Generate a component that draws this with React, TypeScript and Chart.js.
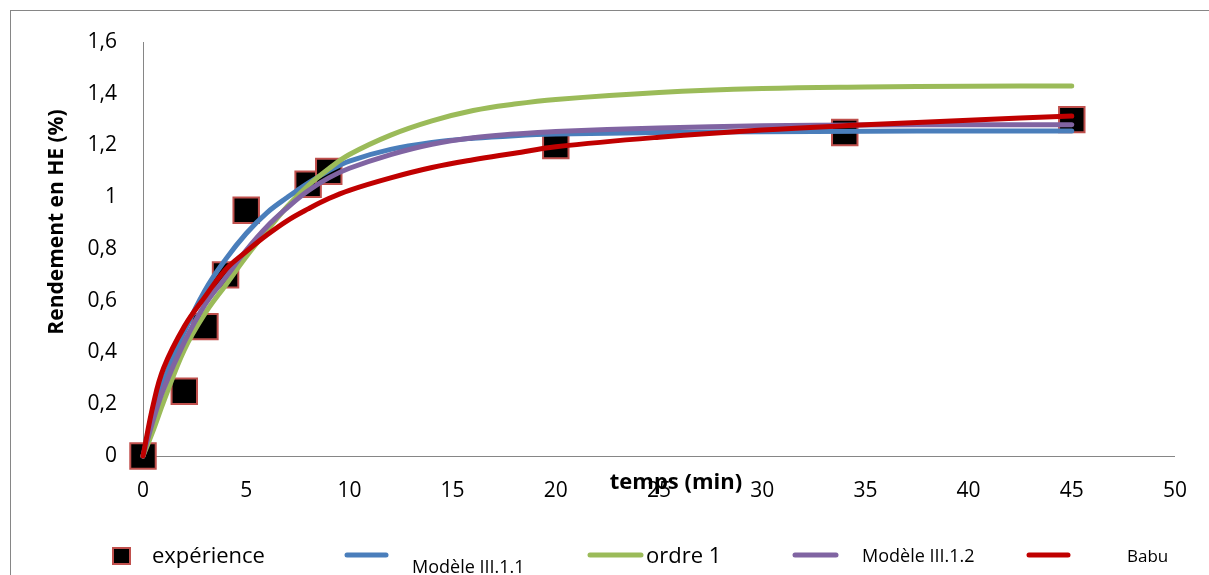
import React, { useEffect, useRef } from "react";
import { Chart, registerables } from "chart.js";

Chart.register(...registerables);

// ---- data ----
const expTimes = [0, 2, 3, 4, 5, 8, 9, 20, 34, 45];
const expValues = [0, 0.25, 0.5, 0.7, 0.95, 1.05, 1.1, 1.2, 1.25, 1.3];

const modelTimes = [0, 0.5, 1, 2, 3, 4, 5, 6, 7, 8, 9, 10, 12, 14, 16, 18, 20, 25, 30, 35, 40, 45];
const modele111 = [0, 0.16, 0.29, 0.48, 0.64, 0.76, 0.86, 0.94, 1.0, 1.055, 1.102, 1.14, 1.185, 1.212, 1.228, 1.238, 1.244, 1.25, 1.253, 1.255, 1.256, 1.256];
const ordre1 = [0, 0.1, 0.21, 0.41, 0.55, 0.66, 0.77, 0.87, 0.965, 1.045, 1.11, 1.165, 1.24, 1.295, 1.335, 1.36, 1.378, 1.405, 1.42, 1.426, 1.429, 1.43];
const modele112 = [0, 0.14, 0.26, 0.44, 0.585, 0.69, 0.795, 0.886, 0.96, 1.025, 1.075, 1.112, 1.165, 1.205, 1.23, 1.244, 1.254, 1.268, 1.276, 1.279, 1.28, 1.28];
const babu = [0, 0.2, 0.34, 0.5, 0.615, 0.72, 0.79, 0.854, 0.91, 0.955, 0.995, 1.027, 1.075, 1.115, 1.145, 1.17, 1.195, 1.232, 1.26, 1.28, 1.298, 1.314];

const xTicks = [0, 5, 10, 15, 20, 25, 30, 35, 40, 45, 50];
const yTicks = [0, 0.2, 0.4, 0.6, 0.8, 1, 1.2, 1.4, 1.6];

const seriesNames = ["expérience", "Modèle III.1.1", "ordre 1", "Modèle III.1.2", "Babu"];
const xTitle = "temps (min)";
const yTitle = "Rendement en HE (%)";

const FONT = "'Open Sans', 'Noto Sans', sans-serif";
const COLORS = {
  blue: "#4a7ebb",
  green: "#9bbb59",
  purple: "#8064a2",
  red: "#c00000",
  marker: "#c0504d",
};

const toPts = (xs: number[], ys: number[]) => xs.map((x, i) => ({ x, y: ys[i] }));
const fmt = (v: number) => String(Number(v.toFixed(1))).replace(".", ",");

const decorPlugin = {
  id: "decor",
  beforeDraw(chart: any) {
    const ctx = chart.ctx;
    ctx.save();
    ctx.strokeStyle = "#868686";
    ctx.lineWidth = 1;
    ctx.strokeRect(10.5, 10.5, 1400, 800);
    ctx.restore();
  },
  afterDraw(chart: any) {
    const ctx = chart.ctx;
    ctx.save();
    ctx.fillStyle = "#000";
    // axis titles
    ctx.font = `bold 22px ${FONT}`;
    ctx.textAlign = "center";
    ctx.textBaseline = "alphabetic";
    ctx.fillText(xTitle, 676, 489);
    ctx.save();
    ctx.translate(57, 222);
    ctx.rotate(-Math.PI / 2);
    ctx.font = `bold 21px ${FONT}`;
    ctx.textAlign = "center";
    ctx.textBaseline = "middle";
    ctx.fillText(yTitle, 0, 0);
    ctx.restore();

    // legend
    ctx.textAlign = "left";
    ctx.textBaseline = "alphabetic";
    ctx.fillStyle = "#000";
    ctx.fillRect(113, 548, 17, 16);
    ctx.strokeStyle = COLORS.marker;
    ctx.lineWidth = 2;
    ctx.strokeRect(113, 548, 17, 16);
    ctx.fillStyle = "#000";
    ctx.font = `22px ${FONT}`;
    ctx.fillText(seriesNames[0], 152, 563);

    const line = (x1: number, x2: number, y: number, c: string) => {
      ctx.beginPath();
      ctx.strokeStyle = c;
      ctx.lineWidth = 5;
      ctx.lineCap = "round";
      ctx.moveTo(x1, y);
      ctx.lineTo(x2, y);
      ctx.stroke();
    };
    line(347, 386, 555, COLORS.blue);
    ctx.font = `18px ${FONT}`;
    ctx.fillText(seriesNames[1], 412, 573);

    line(590, 641, 555, COLORS.green);
    ctx.font = `22px ${FONT}`;
    ctx.fillText(seriesNames[2], 646, 563);

    line(795, 836, 555, COLORS.purple);
    ctx.font = `18px ${FONT}`;
    ctx.fillText(seriesNames[3], 862, 562);

    line(1029, 1068, 555, COLORS.red);
    ctx.font = `17px ${FONT}`;
    ctx.fillText(seriesNames[4], 1127, 562);
    ctx.restore();
  },
};

export default function App() {
  const ref = useRef<HTMLCanvasElement | null>(null);

  useEffect(() => {
    if (!ref.current) return;
    const lineDs = (label: string, ys: number[], color: string, order: number) => ({
      type: "line" as const,
      label,
      data: toPts(modelTimes, ys),
      borderColor: color,
      backgroundColor: color,
      borderWidth: 5,
      borderCapStyle: "round" as const,
      borderJoinStyle: "round" as const,
      pointRadius: 0,
      tension: 0.4,
      fill: false,
      order,
      clip: false as any,
    });

    const chart = new Chart(ref.current, {
      type: "scatter",
      data: {
        datasets: [
          {
            type: "scatter",
            label: seriesNames[0],
            data: toPts(expTimes, expValues),
            pointStyle: "rect",
            pointRadius: 18,
            pointBackgroundColor: "#000",
            pointBorderColor: COLORS.marker,
            pointBorderWidth: 2,
            order: 10,
            clip: false as any,
          } as any,
          lineDs(seriesNames[1], modele111, COLORS.blue, 4),
          lineDs(seriesNames[2], ordre1, COLORS.green, 3),
          lineDs(seriesNames[3], modele112, COLORS.purple, 2),
          lineDs(seriesNames[4], babu, COLORS.red, 1),
        ],
      },
      options: {
        animation: false,
        responsive: false,
        maintainAspectRatio: false,
        events: [],
        layout: { padding: { top: 42, right: 33, left: 0, bottom: 0 } },
        plugins: {
          legend: { display: false },
          tooltip: { enabled: false },
          title: { display: false },
        },
        scales: {
          x: {
            type: "linear",
            min: 0,
            max: 50,
            afterBuildTicks: (s: any) => {
              s.ticks = xTicks.map((v) => ({ value: v }));
            },
            afterFit: (s: any) => {
              s.height = 119;
            },
            grid: { display: false, drawTicks: false },
            border: { display: true, color: "#868686", width: 1 },
            ticks: {
              color: "#000",
              font: { family: FONT, size: 21 },
              padding: 22,
              maxRotation: 0,
              callback: (v: any) => fmt(Number(v)),
            },
          },
          y: {
            type: "linear",
            min: 0,
            max: 1.6,
            afterBuildTicks: (s: any) => {
              s.ticks = yTicks.map((v) => ({ value: v }));
            },
            afterFit: (s: any) => {
              s.width = 143;
            },
            grid: { display: false, drawTicks: false },
            border: { display: true, color: "#868686", width: 1 },
            ticks: {
              color: "#000",
              font: { family: FONT, size: 21 },
              padding: 26,
              callback: (v: any) => fmt(Number(v)),
            },
          },
        },
      },
      plugins: [decorPlugin],
    } as any);
    return () => chart.destroy();
  }, []);

  return (
    <div style={{ position: "absolute", left: 0, top: 0, width: 1209, height: 575, overflow: "hidden", background: "#fff" }}>
      <canvas ref={ref} width={1209} height={575} style={{ width: 1209, height: 575, display: "block" }} />
    </div>
  );
}
